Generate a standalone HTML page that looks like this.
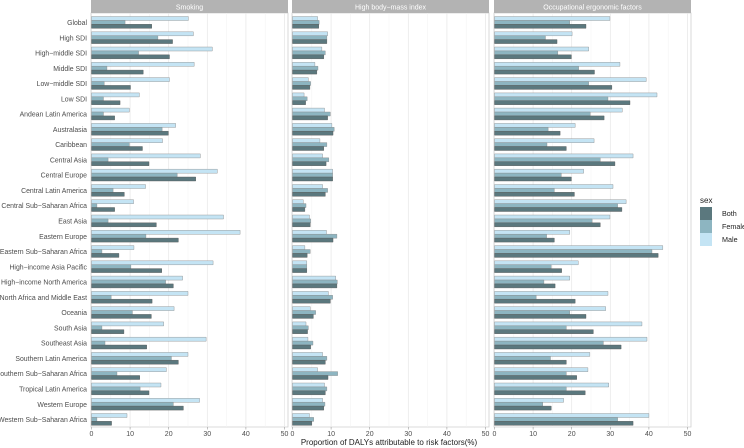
<!DOCTYPE html>
<html><head><meta charset="utf-8"><style>
body{margin:0;background:#fff}
svg{display:block;font-family:"Liberation Sans",sans-serif}
rect{vector-effect:non-scaling-stroke}
.m{fill:#c4e4f4;stroke:#888;stroke-width:0.4}
.f{fill:#8db5c1;stroke:#888;stroke-width:0.4}
.b{fill:#5b787e;stroke:#555;stroke-width:0.4}
.yl{font-size:6.9px;fill:#4d4d4d;text-anchor:end}
.xl{font-size:7px;fill:#4d4d4d;text-anchor:middle}
</style></head><body>
<svg width="744" height="448" viewBox="0 0 744 448">
<defs>
<g id="grid">
<rect x="0" y="13" width="197" height="414" fill="#fff" stroke="#cfcfcf" stroke-width="0.8"/>
<g stroke="#f2f2f2" stroke-width="0.5"><line x1="19.8" y1="13" x2="19.8" y2="427"/><line x1="58.4" y1="13" x2="58.4" y2="427"/><line x1="97" y1="13" x2="97" y2="427"/><line x1="135.6" y1="13" x2="135.6" y2="427"/><line x1="174.2" y1="13" x2="174.2" y2="427"/></g>
<g stroke="#e6e6e6" stroke-width="0.7"><line x1="0.5" y1="13" x2="0.5" y2="427"/><line x1="39.1" y1="13" x2="39.1" y2="427"/><line x1="77.7" y1="13" x2="77.7" y2="427"/><line x1="116.3" y1="13" x2="116.3" y2="427"/><line x1="154.9" y1="13" x2="154.9" y2="427"/><line x1="193.5" y1="13" x2="193.5" y2="427"/></g>
<rect x="0" y="0" width="197" height="13" fill="#b3b3b3"/>
<g stroke="#999" stroke-width="0.6"><line x1="0.5" y1="427" x2="0.5" y2="429.5"/><line x1="39.1" y1="427" x2="39.1" y2="429.5"/><line x1="77.7" y1="427" x2="77.7" y2="429.5"/><line x1="116.3" y1="427" x2="116.3" y2="429.5"/><line x1="154.9" y1="427" x2="154.9" y2="429.5"/><line x1="193.5" y1="427" x2="193.5" y2="429.5"/></g>
<g class="xl"><text x="0.5" y="436">0</text><text x="39.1" y="436">10</text><text x="77.7" y="436">20</text><text x="116.3" y="436">30</text><text x="154.9" y="436">40</text><text x="193.5" y="436">50</text></g>
</g>
</defs>
<use href="#grid" x="91" y="0"/><use href="#grid" x="292" y="0"/><use href="#grid" x="494" y="0"/>
<g font-size="7" fill="#fff" text-anchor="middle"><text x="189.5" y="9.5">Smoking</text><text x="390.5" y="9.5">High body−mass index</text><text x="592.5" y="9.5">Occupational ergonomic factors</text></g>

<g class="yl">
<text x="87" y="25">Global</text><text x="87" y="40.3">High SDI</text><text x="87" y="55.5">High−middle SDI</text><text x="87" y="70.8">Middle SDI</text><text x="87" y="86.1">Low−middle SDI</text><text x="87" y="101.4">Low SDI</text><text x="87" y="116.6">Andean Latin America</text><text x="87" y="131.9">Australasia</text><text x="87" y="147.2">Caribbean</text><text x="87" y="162.4">Central Asia</text><text x="87" y="177.7">Central Europe</text><text x="87" y="193">Central Latin America</text><text x="87" y="208.2">Central Sub−Saharan Africa</text><text x="87" y="223.5">East Asia</text><text x="87" y="238.8">Eastern Europe</text><text x="87" y="254.1">Eastern Sub−Saharan Africa</text><text x="87" y="269.3">High−income Asia Pacific</text><text x="87" y="284.6">High−income North America</text><text x="87" y="299.9">North Africa and Middle East</text><text x="87" y="315.1">Oceania</text><text x="87" y="330.4">South Asia</text><text x="87" y="345.7">Southeast Asia</text><text x="87" y="360.9">Southern Latin America</text><text x="87" y="376.2">Southern Sub−Saharan Africa</text><text x="87" y="391.5">Tropical Latin America</text><text x="87" y="406.8">Western Europe</text><text x="87" y="422">Western Sub−Saharan Africa</text>
</g>

<svg x="91.5" y="0" width="193" height="448" viewBox="0 0 50 448" preserveAspectRatio="none" overflow="visible">
<g>
<g transform="translate(0,16.5)"><rect class="m" width="25.1" height="4"/><rect class="f" y="3.9" width="8.7" height="4"/><rect class="b" y="7.8" width="15.6" height="4"/></g>
<g transform="translate(0,31.8)"><rect class="m" width="26.4" height="4"/><rect class="f" y="3.9" width="17.2" height="4"/><rect class="b" y="7.8" width="21.0" height="4"/></g>
<g transform="translate(0,47)"><rect class="m" width="31.3" height="4"/><rect class="f" y="3.9" width="12.2" height="4"/><rect class="b" y="7.8" width="20.2" height="4"/></g>
<g transform="translate(0,62.3)"><rect class="m" width="26.6" height="4"/><rect class="f" y="3.9" width="4.0" height="4"/><rect class="b" y="7.8" width="13.4" height="4"/></g>
<g transform="translate(0,77.6)"><rect class="m" width="20.2" height="4"/><rect class="f" y="3.9" width="3.3" height="4"/><rect class="b" y="7.8" width="10.1" height="4"/></g>
<g transform="translate(0,92.9)"><rect class="m" width="12.4" height="4"/><rect class="f" y="3.9" width="3.1" height="4"/><rect class="b" y="7.8" width="7.4" height="4"/></g>
<g transform="translate(0,108.1)"><rect class="m" width="9.8" height="4"/><rect class="f" y="3.9" width="3.1" height="4"/><rect class="b" y="7.8" width="6.0" height="4"/></g>
<g transform="translate(0,123.4)"><rect class="m" width="21.8" height="4"/><rect class="f" y="3.9" width="18.3" height="4"/><rect class="b" y="7.8" width="19.9" height="4"/></g>
<g transform="translate(0,138.7)"><rect class="m" width="18.4" height="4"/><rect class="f" y="3.9" width="9.8" height="4"/><rect class="b" y="7.8" width="13.2" height="4"/></g>
<g transform="translate(0,153.9)"><rect class="m" width="28.2" height="4"/><rect class="f" y="3.9" width="4.3" height="4"/><rect class="b" y="7.8" width="14.9" height="4"/></g>
<g transform="translate(0,169.2)"><rect class="m" width="32.6" height="4"/><rect class="f" y="3.9" width="22.2" height="4"/><rect class="b" y="7.8" width="27.0" height="4"/></g>
<g transform="translate(0,184.5)"><rect class="m" width="14.0" height="4"/><rect class="f" y="3.9" width="5.6" height="4"/><rect class="b" y="7.8" width="8.5" height="4"/></g>
<g transform="translate(0,199.7)"><rect class="m" width="10.9" height="4"/><rect class="f" y="3.9" width="1.4" height="4"/><rect class="b" y="7.8" width="6.0" height="4"/></g>
<g transform="translate(0,215)"><rect class="m" width="34.2" height="4"/><rect class="f" y="3.9" width="4.3" height="4"/><rect class="b" y="7.8" width="16.8" height="4"/></g>
<g transform="translate(0,230.3)"><rect class="m" width="38.5" height="4"/><rect class="f" y="3.9" width="14.1" height="4"/><rect class="b" y="7.8" width="22.5" height="4"/></g>
<g transform="translate(0,245.6)"><rect class="m" width="11.0" height="4"/><rect class="f" y="3.9" width="2.7" height="4"/><rect class="b" y="7.8" width="7.1" height="4"/></g>
<g transform="translate(0,260.8)"><rect class="m" width="31.5" height="4"/><rect class="f" y="3.9" width="10.2" height="4"/><rect class="b" y="7.8" width="18.2" height="4"/></g>
<g transform="translate(0,276.1)"><rect class="m" width="23.6" height="4"/><rect class="f" y="3.9" width="19.2" height="4"/><rect class="b" y="7.8" width="21.2" height="4"/></g>
<g transform="translate(0,291.4)"><rect class="m" width="25.0" height="4"/><rect class="f" y="3.9" width="5.1" height="4"/><rect class="b" y="7.8" width="15.7" height="4"/></g>
<g transform="translate(0,306.6)"><rect class="m" width="21.4" height="4"/><rect class="f" y="3.9" width="10.6" height="4"/><rect class="b" y="7.8" width="15.5" height="4"/></g>
<g transform="translate(0,321.9)"><rect class="m" width="18.7" height="4"/><rect class="f" y="3.9" width="2.7" height="4"/><rect class="b" y="7.8" width="8.4" height="4"/></g>
<g transform="translate(0,337.2)"><rect class="m" width="29.7" height="4"/><rect class="f" y="3.9" width="3.5" height="4"/><rect class="b" y="7.8" width="14.3" height="4"/></g>
<g transform="translate(0,352.4)"><rect class="m" width="25.0" height="4"/><rect class="f" y="3.9" width="20.7" height="4"/><rect class="b" y="7.8" width="22.5" height="4"/></g>
<g transform="translate(0,367.7)"><rect class="m" width="19.4" height="4"/><rect class="f" y="3.9" width="6.6" height="4"/><rect class="b" y="7.8" width="12.5" height="4"/></g>
<g transform="translate(0,383)"><rect class="m" width="18.0" height="4"/><rect class="f" y="3.9" width="12.6" height="4"/><rect class="b" y="7.8" width="14.9" height="4"/></g>
<g transform="translate(0,398.3)"><rect class="m" width="28.0" height="4"/><rect class="f" y="3.9" width="21.2" height="4"/><rect class="b" y="7.8" width="23.8" height="4"/></g>
<g transform="translate(0,413.5)"><rect class="m" width="9.2" height="4"/><rect class="f" y="3.9" width="1.4" height="4"/><rect class="b" y="7.8" width="5.2" height="4"/></g>
</g></svg>

<svg x="292.5" y="0" width="193" height="448" viewBox="0 0 50 448" preserveAspectRatio="none" overflow="visible">
<g>
<g transform="translate(0,16.5)"><rect class="m" width="6.5" height="4"/><rect class="f" y="3.9" width="6.9" height="4"/><rect class="b" y="7.8" width="6.8" height="4"/></g>
<g transform="translate(0,31.8)"><rect class="m" width="9.1" height="4"/><rect class="f" y="3.9" width="8.9" height="4"/><rect class="b" y="7.8" width="8.9" height="4"/></g>
<g transform="translate(0,47)"><rect class="m" width="7.6" height="4"/><rect class="f" y="3.9" width="8.5" height="4"/><rect class="b" y="7.8" width="8.1" height="4"/></g>
<g transform="translate(0,62.3)"><rect class="m" width="5.8" height="4"/><rect class="f" y="3.9" width="6.6" height="4"/><rect class="b" y="7.8" width="6.3" height="4"/></g>
<g transform="translate(0,77.6)"><rect class="m" width="4.1" height="4"/><rect class="f" y="3.9" width="4.7" height="4"/><rect class="b" y="7.8" width="4.5" height="4"/></g>
<g transform="translate(0,92.9)"><rect class="m" width="3.0" height="4"/><rect class="f" y="3.9" width="3.8" height="4"/><rect class="b" y="7.8" width="3.4" height="4"/></g>
<g transform="translate(0,108.1)"><rect class="m" width="8.3" height="4"/><rect class="f" y="3.9" width="9.8" height="4"/><rect class="b" y="7.8" width="9.1" height="4"/></g>
<g transform="translate(0,123.4)"><rect class="m" width="10.2" height="4"/><rect class="f" y="3.9" width="10.8" height="4"/><rect class="b" y="7.8" width="10.5" height="4"/></g>
<g transform="translate(0,138.7)"><rect class="m" width="7.1" height="4"/><rect class="f" y="3.9" width="8.9" height="4"/><rect class="b" y="7.8" width="8.1" height="4"/></g>
<g transform="translate(0,153.9)"><rect class="m" width="7.8" height="4"/><rect class="f" y="3.9" width="9.4" height="4"/><rect class="b" y="7.8" width="8.7" height="4"/></g>
<g transform="translate(0,169.2)"><rect class="m" width="10.4" height="4"/><rect class="f" y="3.9" width="10.4" height="4"/><rect class="b" y="7.8" width="10.4" height="4"/></g>
<g transform="translate(0,184.5)"><rect class="m" width="7.8" height="4"/><rect class="f" y="3.9" width="9.1" height="4"/><rect class="b" y="7.8" width="8.5" height="4"/></g>
<g transform="translate(0,199.7)"><rect class="m" width="2.8" height="4"/><rect class="f" y="3.9" width="3.5" height="4"/><rect class="b" y="7.8" width="3.2" height="4"/></g>
<g transform="translate(0,215)"><rect class="m" width="4.4" height="4"/><rect class="f" y="3.9" width="4.7" height="4"/><rect class="b" y="7.8" width="4.6" height="4"/></g>
<g transform="translate(0,230.3)"><rect class="m" width="8.8" height="4"/><rect class="f" y="3.9" width="11.5" height="4"/><rect class="b" y="7.8" width="10.5" height="4"/></g>
<g transform="translate(0,245.6)"><rect class="m" width="3.2" height="4"/><rect class="f" y="3.9" width="4.6" height="4"/><rect class="b" y="7.8" width="3.8" height="4"/></g>
<g transform="translate(0,260.8)"><rect class="m" width="3.7" height="4"/><rect class="f" y="3.9" width="3.7" height="4"/><rect class="b" y="7.8" width="3.7" height="4"/></g>
<g transform="translate(0,276.1)"><rect class="m" width="11.2" height="4"/><rect class="f" y="3.9" width="11.6" height="4"/><rect class="b" y="7.8" width="11.5" height="4"/></g>
<g transform="translate(0,291.4)"><rect class="m" width="9.3" height="4"/><rect class="f" y="3.9" width="10.4" height="4"/><rect class="b" y="7.8" width="9.8" height="4"/></g>
<g transform="translate(0,306.6)"><rect class="m" width="4.6" height="4"/><rect class="f" y="3.9" width="6.0" height="4"/><rect class="b" y="7.8" width="5.4" height="4"/></g>
<g transform="translate(0,321.9)"><rect class="m" width="3.5" height="4"/><rect class="f" y="3.9" width="4.1" height="4"/><rect class="b" y="7.8" width="3.9" height="4"/></g>
<g transform="translate(0,337.2)"><rect class="m" width="4.0" height="4"/><rect class="f" y="3.9" width="5.3" height="4"/><rect class="b" y="7.8" width="4.7" height="4"/></g>
<g transform="translate(0,352.4)"><rect class="m" width="7.8" height="4"/><rect class="f" y="3.9" width="8.9" height="4"/><rect class="b" y="7.8" width="8.5" height="4"/></g>
<g transform="translate(0,367.7)"><rect class="m" width="6.5" height="4"/><rect class="f" y="3.9" width="11.7" height="4"/><rect class="b" y="7.8" width="9.2" height="4"/></g>
<g transform="translate(0,383)"><rect class="m" width="8.3" height="4"/><rect class="f" y="3.9" width="8.9" height="4"/><rect class="b" y="7.8" width="8.5" height="4"/></g>
<g transform="translate(0,398.3)"><rect class="m" width="7.8" height="4"/><rect class="f" y="3.9" width="8.4" height="4"/><rect class="b" y="7.8" width="8.1" height="4"/></g>
<g transform="translate(0,413.5)"><rect class="m" width="4.4" height="4"/><rect class="f" y="3.9" width="5.5" height="4"/><rect class="b" y="7.8" width="5.0" height="4"/></g>
</g></svg>

<svg x="494.5" y="0" width="193" height="448" viewBox="0 0 50 448" preserveAspectRatio="none" overflow="visible">
<g>
<g transform="translate(0,16.5)"><rect class="m" width="29.9" height="4"/><rect class="f" y="3.9" width="19.5" height="4"/><rect class="b" y="7.8" width="23.7" height="4"/></g>
<g transform="translate(0,31.8)"><rect class="m" width="20.1" height="4"/><rect class="f" y="3.9" width="13.2" height="4"/><rect class="b" y="7.8" width="16.2" height="4"/></g>
<g transform="translate(0,47)"><rect class="m" width="24.4" height="4"/><rect class="f" y="3.9" width="16.4" height="4"/><rect class="b" y="7.8" width="19.9" height="4"/></g>
<g transform="translate(0,62.3)"><rect class="m" width="32.5" height="4"/><rect class="f" y="3.9" width="21.8" height="4"/><rect class="b" y="7.8" width="25.9" height="4"/></g>
<g transform="translate(0,77.6)"><rect class="m" width="39.3" height="4"/><rect class="f" y="3.9" width="24.4" height="4"/><rect class="b" y="7.8" width="30.4" height="4"/></g>
<g transform="translate(0,92.9)"><rect class="m" width="42.1" height="4"/><rect class="f" y="3.9" width="29.4" height="4"/><rect class="b" y="7.8" width="35.1" height="4"/></g>
<g transform="translate(0,108.1)"><rect class="m" width="33.1" height="4"/><rect class="f" y="3.9" width="24.8" height="4"/><rect class="b" y="7.8" width="28.4" height="4"/></g>
<g transform="translate(0,123.4)"><rect class="m" width="20.9" height="4"/><rect class="f" y="3.9" width="13.9" height="4"/><rect class="b" y="7.8" width="17.0" height="4"/></g>
<g transform="translate(0,138.7)"><rect class="m" width="25.8" height="4"/><rect class="f" y="3.9" width="13.6" height="4"/><rect class="b" y="7.8" width="18.6" height="4"/></g>
<g transform="translate(0,153.9)"><rect class="m" width="35.9" height="4"/><rect class="f" y="3.9" width="27.4" height="4"/><rect class="b" y="7.8" width="31.2" height="4"/></g>
<g transform="translate(0,169.2)"><rect class="m" width="23.1" height="4"/><rect class="f" y="3.9" width="17.3" height="4"/><rect class="b" y="7.8" width="19.9" height="4"/></g>
<g transform="translate(0,184.5)"><rect class="m" width="30.7" height="4"/><rect class="f" y="3.9" width="15.5" height="4"/><rect class="b" y="7.8" width="20.7" height="4"/></g>
<g transform="translate(0,199.7)"><rect class="m" width="34.1" height="4"/><rect class="f" y="3.9" width="31.9" height="4"/><rect class="b" y="7.8" width="33.0" height="4"/></g>
<g transform="translate(0,215)"><rect class="m" width="29.9" height="4"/><rect class="f" y="3.9" width="25.3" height="4"/><rect class="b" y="7.8" width="27.4" height="4"/></g>
<g transform="translate(0,230.3)"><rect class="m" width="19.5" height="4"/><rect class="f" y="3.9" width="13.5" height="4"/><rect class="b" y="7.8" width="15.5" height="4"/></g>
<g transform="translate(0,245.6)"><rect class="m" width="43.6" height="4"/><rect class="f" y="3.9" width="40.8" height="4"/><rect class="b" y="7.8" width="42.4" height="4"/></g>
<g transform="translate(0,260.8)"><rect class="m" width="21.7" height="4"/><rect class="f" y="3.9" width="14.7" height="4"/><rect class="b" y="7.8" width="17.4" height="4"/></g>
<g transform="translate(0,276.1)"><rect class="m" width="19.5" height="4"/><rect class="f" y="3.9" width="12.8" height="4"/><rect class="b" y="7.8" width="15.7" height="4"/></g>
<g transform="translate(0,291.4)"><rect class="m" width="29.4" height="4"/><rect class="f" y="3.9" width="10.8" height="4"/><rect class="b" y="7.8" width="20.9" height="4"/></g>
<g transform="translate(0,306.6)"><rect class="m" width="28.8" height="4"/><rect class="f" y="3.9" width="19.5" height="4"/><rect class="b" y="7.8" width="23.7" height="4"/></g>
<g transform="translate(0,321.9)"><rect class="m" width="38.2" height="4"/><rect class="f" y="3.9" width="18.6" height="4"/><rect class="b" y="7.8" width="25.6" height="4"/></g>
<g transform="translate(0,337.2)"><rect class="m" width="39.5" height="4"/><rect class="f" y="3.9" width="28.2" height="4"/><rect class="b" y="7.8" width="32.8" height="4"/></g>
<g transform="translate(0,352.4)"><rect class="m" width="24.7" height="4"/><rect class="f" y="3.9" width="14.5" height="4"/><rect class="b" y="7.8" width="18.6" height="4"/></g>
<g transform="translate(0,367.7)"><rect class="m" width="24.2" height="4"/><rect class="f" y="3.9" width="18.6" height="4"/><rect class="b" y="7.8" width="21.3" height="4"/></g>
<g transform="translate(0,383)"><rect class="m" width="29.6" height="4"/><rect class="f" y="3.9" width="18.6" height="4"/><rect class="b" y="7.8" width="23.5" height="4"/></g>
<g transform="translate(0,398.3)"><rect class="m" width="17.9" height="4"/><rect class="f" y="3.9" width="12.5" height="4"/><rect class="b" y="7.8" width="14.7" height="4"/></g>
<g transform="translate(0,413.5)"><rect class="m" width="40.0" height="4"/><rect class="f" y="3.9" width="31.9" height="4"/><rect class="b" y="7.8" width="35.9" height="4"/></g>
</g></svg>

<text x="389" y="445" font-size="8" fill="#222" text-anchor="middle">Proportion of DALYs attributable to risk factors(%)</text>

<text x="700" y="203" font-size="8" fill="#222">sex</text>
<rect x="700" y="207" width="12" height="13" fill="#5b787e"/>
<rect x="700" y="220" width="12" height="13" fill="#8db5c1"/>
<rect x="700" y="233" width="12" height="13" fill="#c4e4f4"/>
<g font-size="7.2" fill="#222"><text x="722" y="216">Both</text><text x="722" y="229">Female</text><text x="722" y="242">Male</text></g>
</svg>
</body></html>
